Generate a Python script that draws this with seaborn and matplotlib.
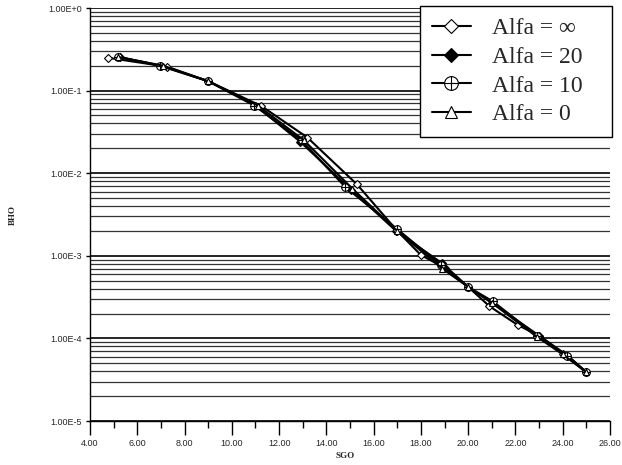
import numpy as np
import pandas as pd
from matplotlib import pyplot as plt
from matplotlib.path import Path
from matplotlib.ticker import FixedLocator, LogLocator, FuncFormatter
import seaborn as sns

# series
x_inf = [4.75, 7.25, 9.0, 11.25, 13.2, 15.3, 17.0, 18.0, 19.0, 20.0, 20.9, 22.1, 23.0, 24.0, 25.0]
y_inf = [0.25, 0.195, 0.13, 0.065, 0.027, 0.0073, 0.002, 0.00102, 0.00072, 0.00042,
         0.000245, 0.000145, 0.000108, 6.5e-5, 3.9e-5]

x_20 = [5.25, 7.0, 9.0, 11.0, 12.9, 15.05, 16.95, 18.9, 20.0, 21.0, 23.0, 24.2, 25.0]
y_20 = [0.255, 0.2, 0.13, 0.066, 0.024, 0.0063, 0.002, 0.00081, 0.00042, 0.00027,
        0.000108, 6.2e-5, 3.9e-5]

x_10 = [5.2, 6.95, 9.0, 10.95, 12.95, 14.8, 17.0, 18.85, 20.0, 21.05, 22.9, 24.2, 25.0]
y_10 = [0.255, 0.2, 0.13, 0.066, 0.025, 0.0068, 0.0021, 0.00077, 0.00042, 0.00028,
        0.000108, 6.2e-5, 3.9e-5]

x_0 = [5.2, 7.1, 9.0, 11.1, 13.05, 15.1, 17.0, 18.9, 20.0, 21.0, 22.9, 24.0, 25.0]
y_0 = [0.255, 0.2, 0.13, 0.066, 0.025, 0.0065, 0.002, 0.0007, 0.00042, 0.00027,
       0.000105, 6.4e-5, 3.9e-5]

labels = ['Alfa = ∞', 'Alfa = 20', 'Alfa = 10', 'Alfa = 0']
x_ticks = [4, 6, 8, 10, 12, 14, 16, 18, 20, 22, 24, 26]

# circle with a cross inside, built by hand
circle = Path.unit_circle()
oplus = Path(np.vstack([circle.vertices, [[-1, 0], [1, 0], [0, -1], [0, 1]]]),
             np.concatenate([circle.codes,
                             [Path.MOVETO, Path.LINETO, Path.MOVETO, Path.LINETO]]))

styles = [dict(marker='D', mfc='white', ms=4),
          dict(marker='D', mfc='black', ms=4),
          dict(marker=oplus, mfc='white', ms=5.5),
          dict(marker='^', mfc='white', ms=5)]

sns.set_style('white')
plt.rcParams['font.family'] = ['Liberation Sans', 'DejaVu Sans']

fig = plt.figure(figsize=(6.22, 4.65), dpi=100)
ax = fig.add_axes([90 / 622, 1 - 421 / 465, 520 / 622, 413 / 465])

series = [(x_inf, y_inf), (x_20, y_20), (x_10, y_10), (x_0, y_0)]
for (xs, ys), lab, st in zip(series, labels, styles):
    df = pd.DataFrame({'SGO': xs, 'BHO': ys})
    sns.lineplot(data=df, x='SGO', y='BHO', ax=ax, sort=False, color='black',
                 linewidth=1.5, mec='black', mew=0.8, label=lab, **st)

ax.set_yscale('log')
ax.set_ylim(1e-5, 1.0)
ax.set_xlim(4, 26)

ax.xaxis.set_major_locator(FixedLocator(x_ticks))
ax.xaxis.set_minor_locator(FixedLocator(np.arange(5, 26, 2)))
ax.xaxis.set_major_formatter(FuncFormatter(lambda v, p: f'{v:.2f}'))
ax.yaxis.set_major_locator(LogLocator(base=10, numticks=10))
ax.yaxis.set_minor_locator(LogLocator(base=10, subs=np.arange(2, 10), numticks=20))
ax.yaxis.set_major_formatter(
    FuncFormatter(lambda v, p: '1.00E+0' if v >= 1 else f'1.00E{int(round(np.log10(v)))}'))

ax.grid(True, which='major', axis='y', color='black', linewidth=1.2)
ax.grid(True, which='minor', axis='y', color='#333333', linewidth=0.9)
ax.grid(False, axis='x')
ax.set_axisbelow(True)

for side in ['top', 'right']:
    ax.spines[side].set_visible(False)
for side in ['left', 'bottom']:
    ax.spines[side].set_color('black')
    ax.spines[side].set_linewidth(1.0)

ax.tick_params(axis='x', which='major', direction='out', length=10, width=1,
               color='black', labelsize=6.5, pad=3, bottom=True)
ax.tick_params(axis='x', which='minor', direction='out', length=5, width=1,
               color='black', bottom=True)
ax.tick_params(axis='y', which='major', direction='out', length=3, width=1,
               color='black', labelsize=6.5, pad=3, left=True)
ax.tick_params(axis='y', which='minor', left=False)

ax.set_xlabel('SGO', fontsize=6.5, fontweight='bold', family='Liberation Serif')
ax.set_ylabel('BHO', fontsize=6.5, fontweight='bold', family='Liberation Serif')
ax.xaxis.set_label_coords(0.49, -0.075)
ax.yaxis.set_label_coords(-0.14, 0.5)

leg = ax.legend([h for h in ax.get_lines()], [l + '   ' for l in labels],
                loc='upper right', bbox_to_anchor=(612 / 622, 1 - 6 / 465),
                bbox_transform=fig.transFigure, borderaxespad=0,
                frameon=True, fancybox=False,
                framealpha=1, edgecolor='black', markerscale=1.8,
                handlelength=1.65, handletextpad=0.9, labelspacing=0.3,
                borderpad=0.5, prop={'family': 'Liberation Serif', 'size': 17})
leg.get_frame().set_linewidth(1.0)

fig.savefig('out.png', dpi=100)
